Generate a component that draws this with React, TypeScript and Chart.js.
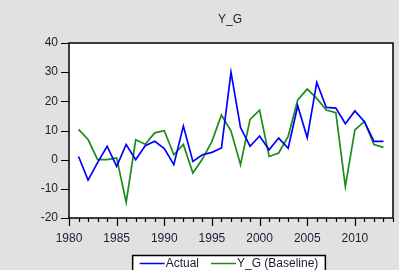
import React, { useEffect, useRef } from "react";
import { Chart, registerables } from "chart.js";

Chart.register(...registerables);

const TITLE = "Y_G";
const years = [
  1981, 1982, 1983, 1984, 1985, 1986, 1987, 1988, 1989, 1990,
  1991, 1992, 1993, 1994, 1995, 1996, 1997, 1998, 1999, 2000,
  2001, 2002, 2003, 2004, 2005, 2006, 2007, 2008, 2009, 2010,
  2011, 2012, 2013,
];
const actual = [
  1.1, -7.0, -1.0, 4.6, -2.3, 5.2, 0.0, 4.8, 6.3, 3.8,
  -1.7, 11.5, -0.6, 1.7, 2.5, 4.0, 30.0, 11.0, 4.6, 8.1,
  3.4, 7.4, 3.9, 18.5, 7.5, 26.5, 17.9, 17.7, 12.3, 16.7,
  13.0, 6.3, 6.3,
];
const baseline = [
  10.4, 6.9, 0.0, 0.0, 0.6, -14.6, 6.8, 5.3, 9.2, 9.9,
  1.7, 5.2, -4.6, 0.2, 6.3, 15.3, 9.8, -1.7, 13.8, 17.0,
  1.1, 2.3, 8.0, 20.5, 24.2, 21.0, 17.0, 16.1, -9.2, 10.2,
  13.1, 5.2, 4.2,
];
const seriesLabels = ["Actual", "Y_G (Baseline)"];
const seriesColors = ["#0000ff", "#1a8c1a"];
const xLabelYears = [1980, 1985, 1990, 1995, 2000, 2005, 2010];
const xMin = 1980;
const xMax = 2014;
const yMin = -20;
const yMax = 40;
const yStep = 10;

const FONT = "'Liberation Sans', Arial, sans-serif";
const TEXT_COLOR = "#1c1c30";
const BG = "#e1e1e1";

const framePlugin = {
  id: "eviewsFrame",
  beforeDraw(chart: any) {
    const { ctx, chartArea, width, height } = chart;
    ctx.save();
    ctx.fillStyle = BG;
    ctx.fillRect(0, 0, width, height);
    ctx.fillStyle = "#ffffff";
    ctx.fillRect(chartArea.left, chartArea.top, chartArea.right - chartArea.left, chartArea.bottom - chartArea.top);
    ctx.restore();
  },
  afterDraw(chart: any) {
    const { ctx, chartArea } = chart;
    const xs = chart.scales.x;
    const ys = chart.scales.y;
    ctx.save();
    ctx.strokeStyle = "#000000";
    ctx.lineWidth = 1.5;
    ctx.strokeRect(chartArea.left, chartArea.top, chartArea.right - chartArea.left, chartArea.bottom - chartArea.top);
    ctx.lineWidth = 1.2;
    ctx.beginPath();
    xs.ticks.forEach((t: any) => {
      const px = Math.round(xs.getPixelForValue(t.value)) + 0.5;
      const len = t.value % 5 === 0 ? 8 : 4;
      ctx.moveTo(px, chartArea.bottom);
      ctx.lineTo(px, chartArea.bottom + len);
    });
    ys.ticks.forEach((t: any) => {
      const py = Math.round(ys.getPixelForValue(t.value)) + 0.5;
      ctx.moveTo(chartArea.left, py);
      ctx.lineTo(chartArea.left - 8, py);
    });
    ctx.stroke();

    // title
    const cx = (chartArea.left + chartArea.right) / 2;
    ctx.fillStyle = TEXT_COLOR;
    ctx.font = `12px ${FONT}`;
    ctx.textAlign = "center";
    ctx.textBaseline = "middle";
    ctx.fillText(TITLE, cx - 1, 20);

    // legend box
    const ds = chart.data.datasets;
    const lineLen = 25;
    const gapText = 1;
    const gapItems = 12;
    const pad = 7;
    ctx.font = `12px ${FONT}`;
    const widths = ds.map((d: any) => ctx.measureText(d.label).width);
    let total = pad * 2;
    widths.forEach((w: number, i: number) => {
      total += lineLen + gapText + w + (i > 0 ? gapItems : 0);
    });
    const left = cx - 2 - total / 2;
    const top = 255.5;
    ctx.lineWidth = 1.5;
    ctx.strokeStyle = "#000";
    ctx.fillStyle = "#ffffff";
    ctx.fillRect(left, top, total, 20);
    ctx.strokeRect(left, top, total, 20);
    let x = left + pad;
    const ly = 263.5;
    ds.forEach((d: any, i: number) => {
      if (i > 0) x += gapItems;
      ctx.strokeStyle = d.borderColor;
      ctx.lineWidth = 1.5;
      ctx.beginPath();
      ctx.moveTo(x, ly);
      ctx.lineTo(x + lineLen, ly);
      ctx.stroke();
      x += lineLen + gapText;
      ctx.fillStyle = TEXT_COLOR;
      ctx.textAlign = "left";
      ctx.textBaseline = "middle";
      ctx.fillText(d.label, x, ly + 0.5);
      x += widths[i];
    });
    ctx.restore();
  },
};

export default function App() {
  const ref = useRef<HTMLCanvasElement | null>(null);
  useEffect(() => {
    if (!ref.current) return;
    const chart = new Chart(ref.current, {
      type: "line",
      data: {
        datasets: [
          {
            label: seriesLabels[0],
            data: years.map((yr, i) => ({ x: yr, y: actual[i] })),
            borderColor: seriesColors[0],
            backgroundColor: seriesColors[0],
            borderWidth: 1.7,
            pointRadius: 0,
            tension: 0,
          },
          {
            label: seriesLabels[1],
            data: years.map((yr, i) => ({ x: yr, y: baseline[i] })),
            borderColor: seriesColors[1],
            backgroundColor: seriesColors[1],
            borderWidth: 1.7,
            pointRadius: 0,
            tension: 0,
          },
        ],
      },
      options: {
        responsive: false,
        animation: false,
        devicePixelRatio: 1,
        layout: { padding: { left: 0, top: 43, right: 0, bottom: 22 } },
        plugins: {
          legend: { display: false },
          title: { display: false },
          tooltip: { enabled: false },
        },
        scales: {
          x: {
            type: "linear",
            min: xMin,
            max: xMax,
            afterFit: (s: any) => { s.height = 30; },
            grid: { display: false, drawTicks: false },
            border: { display: false },
            ticks: {
              stepSize: 1,
              autoSkip: false,
              maxRotation: 0,
              padding: 13,
              color: TEXT_COLOR,
              font: { family: FONT, size: 12 },
              callback: (v: any) => (xLabelYears.includes(Number(v)) ? String(v) : ""),
            },
          },
          y: {
            min: yMin,
            max: yMax,
            afterFit: (s: any) => { s.width = 69; },
            grid: { display: false, drawTicks: false },
            border: { display: false },
            ticks: {
              stepSize: yStep,
              padding: 11,
              color: TEXT_COLOR,
              font: { family: FONT, size: 12 },
            },
          },
        },
      },
      plugins: [framePlugin],
    });
    return () => chart.destroy();
  }, []);
  return (
    <div style={{ position: "fixed", left: 0, top: 0, width: 399, height: 270, overflow: "hidden", background: BG }}>
      <canvas ref={ref} width={406} height={270} style={{ width: 406, height: 270, display: "block" }} />
    </div>
  );
}
